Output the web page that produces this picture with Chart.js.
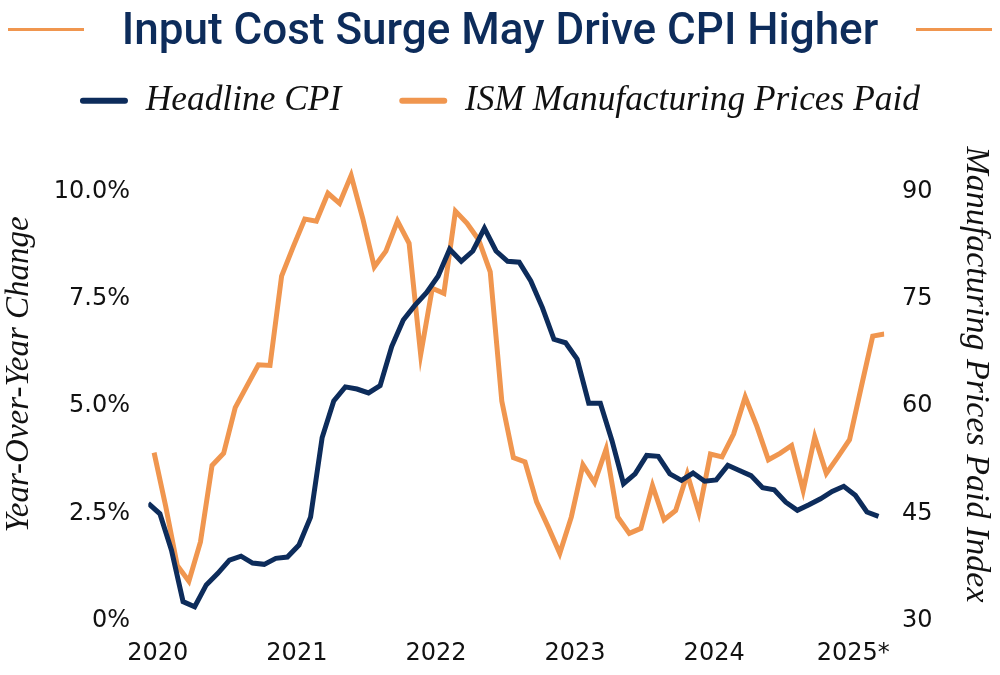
<!DOCTYPE html>
<html>
<head>
<meta charset="utf-8">
<title>Input Cost Surge May Drive CPI Higher</title>
<script src="https://cdn.jsdelivr.net/npm/chart.js@4"></script>
<style>
  body { margin: 0; background: #fff; }
  #wrap { position: relative; width: 1000px; height: 675px; }
  #title {
    position: absolute; left: 0; top: 0; width: 1000px; height: 58px;
    display: flex; align-items: center; padding: 0 8px; box-sizing: border-box;
  }
  #title h1 {
    margin: 0 38px; font: 500 44px/1 Roboto, sans-serif; color: #0d2c5b;
    white-space: nowrap;
  }
  #title .rule { flex: 1; height: 3px; background: #f0964f; }
  canvas { position: absolute; left: 0; top: 0; }
</style>
</head>
<body>
<div id="wrap">
  <canvas id="cpiChart" width="1000" height="675"></canvas>
  <div id="title"><span class="rule"></span><h1>Input Cost Surge May Drive CPI Higher</h1><span class="rule"></span></div>
</div>
<script>
// monthly, Jan 2020 .. Apr 2025 (index 0 = Jan 2020)
const cpi = [
  2.73, 2.49, 1.64, 0.44, 0.32, 0.83, 1.10, 1.41, 1.50, 1.34, 1.31, 1.45,
  1.48, 1.76, 2.41, 4.27, 5.12, 5.45, 5.40, 5.31, 5.48, 6.39, 7.01, 7.35,
  7.65, 8.03, 8.66, 8.38, 8.62, 9.15, 8.62, 8.38, 8.36, 7.92, 7.30, 6.56,
  6.48, 6.10, 5.07, 5.07, 4.20, 3.19, 3.42, 3.85, 3.83, 3.42, 3.27, 3.44,
  3.25, 3.28, 3.62, 3.50, 3.38, 3.10, 3.05, 2.76, 2.57, 2.70, 2.84, 3.01,
  3.13, 2.92, 2.53, 2.43
];
const ismPrices = [
  53.5, 46.0, 37.7, 35.5, 41.0, 51.7, 53.4, 59.8, 62.8, 65.8, 65.7, 78.2,
  82.3, 86.2, 85.9, 89.8, 88.4, 92.3, 86.3, 79.5, 81.7, 85.9, 82.8, 67.2,
  76.5, 75.8, 87.3, 85.6, 83.3, 78.8, 60.7, 52.8, 52.2, 46.6, 43.1, 39.4,
  44.5, 51.8, 49.3, 54.0, 44.5, 42.2, 42.9, 48.9, 44.1, 45.4, 50.5, 45.1,
  53.3, 52.9, 56.1, 61.3, 57.2, 52.5, 53.4, 54.5, 48.2, 55.7, 50.6, 52.9,
  55.3, 62.6, 69.8, 70.1
];
const ismOffset = 0.5; // ISM series is plotted mid-month

const yearTicks = [0, 12, 24, 36, 48, 60];
const yearLabels = ["2020", "2021", "2022", "2023", "2024", "2025*"];
const cpiTicks = [0, 2.5, 5, 7.5, 10];
const ismTicks = [30, 45, 60, 75, 90];

const navy = "#0d2c5b";
const orange = "#f0964f";
const textColor = "#111";

// both axes share the same grid: 2.5% <-> 15 index points
const cpiMax = 11.48;
const ismMin = 30;
const ismMax = ismMin + cpiMax * 6;

const serifItalic = (size) => ({ family: "Liberation Serif", style: "italic", size: size });

Chart.defaults.font.family = "DejaVu Sans";
Chart.defaults.color = textColor;

new Chart(document.getElementById("cpiChart"), {
  type: "line",
  data: {
    datasets: [
      {
        label: "Headline CPI",
        data: cpi.map((v, i) => ({ x: i, y: v })),
        yAxisID: "y",
        borderColor: navy,
        backgroundColor: navy,
        borderWidth: 5,
        pointRadius: 0,
      },
      {
        label: "ISM Manufacturing Prices Paid",
        data: ismPrices.map((v, i) => ({ x: i + ismOffset, y: v })),
        yAxisID: "y1",
        borderColor: orange,
        backgroundColor: orange,
        borderWidth: 5,
        pointRadius: 0,
      },
    ],
  },
  options: {
    responsive: false,
    animation: false,
    layout: { padding: { top: 25, left: 0, right: 0, bottom: 0 } },
    plugins: {
      tooltip: { enabled: false },
      legend: {
        labels: {
          font: serifItalic(35.4),
          color: textColor,
          boxWidth: 48,
          boxHeight: 6,
          padding: 58,
          useBorderRadius: true,
          borderRadius: 3,
          generateLabels: (chart) =>
            Chart.defaults.plugins.legend.labels
              .generateLabels(chart)
              .map((item) => ({ ...item, fillStyle: item.strokeStyle, lineWidth: 0 })),
        },
      },
    },
    scales: {
      x: {
        type: "linear",
        min: 0,
        max: 63.5,
        grid: { display: false, drawTicks: false },
        border: { display: false },
        ticks: {
          font: { size: 24 },
          padding: 19,
          labelOffset: 9.5,
          maxRotation: 0,
          autoSkip: false,
          callback: (value, index) => yearLabels[index],
        },
        afterBuildTicks: (axis) => {
          axis.ticks = yearTicks.map((v) => ({ value: v }));
        },
        afterFit: (axis) => {
          axis.height = 54.5;
        },
      },
      y: {
        position: "left",
        min: 0,
        max: cpiMax,
        grid: { display: false, drawTicks: false },
        border: { display: false },
        ticks: {
          font: { size: 24 },
          padding: 18.3,
          callback: (v) => (v === 0 ? "0%" : v.toFixed(1) + "%"),
        },
        title: {
          display: true,
          text: "Year-Over-Year Change",
          font: serifItalic(33),
          color: textColor,
          padding: { top: 0, bottom: 0 },
        },
        afterBuildTicks: (axis) => {
          axis.ticks = cpiTicks.map((v) => ({ value: v }));
        },
        afterFit: (axis) => {
          axis.width = 148.3;
        },
      },
      y1: {
        position: "right",
        min: ismMin,
        max: ismMax,
        grid: { display: false, drawTicks: false },
        border: { display: false },
        ticks: {
          font: { size: 24 },
          padding: 17.7,
          callback: (v) => String(v),
        },
        title: {
          display: true,
          text: "Manufacturing Prices Paid Index",
          font: serifItalic(34),
          color: textColor,
          padding: { top: 4, bottom: 0 },
        },
        afterBuildTicks: (axis) => {
          axis.ticks = ismTicks.map((v) => ({ value: v }));
        },
        afterFit: (axis) => {
          axis.width = 115.7;
        },
      },
    },
  },
});
</script>
</body>
</html>
